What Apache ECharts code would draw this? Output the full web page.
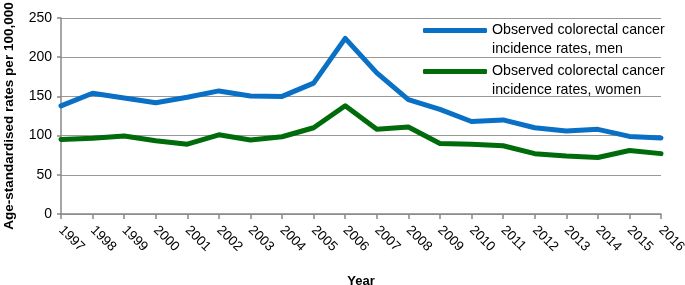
<!DOCTYPE html>
<html><head><meta charset="utf-8">
<script src="https://cdn.jsdelivr.net/npm/echarts@6/dist/echarts.min.js"></script>
<style>html,body{margin:0;padding:0;background:#fff}#c{width:685px;height:285px}</style>
</head><body><div id="c"></div>
<script>
const years = ['1997','1998','1999','2000','2001','2002','2003','2004','2005','2006','2007','2008','2009','2010','2011','2012','2013','2014','2015','2016'];
const men = [138,154,148,142,149,157,150.5,150,167,224,180,146,133.5,118,120,110,106,108,99,97];
const women = [95,96.5,99.5,93.5,89,101,94.5,98.5,110,138,108,111,90,89,87,77,74,72,81,77];
const nameMen = 'Observed colorectal cancer\nincidence rates, men';
const nameWomen = 'Observed colorectal cancer\nincidence rates, women';
const yTicks = [0,50,100,150,200,250];

const font = 'Liberation Sans, Arial, sans-serif';
const chart = echarts.init(document.getElementById('c'), null, {renderer:'canvas'});
const legendText = {fontFamily:font, fontSize:14.2, color:'#000', lineHeight:19};
const legendFmt = function(n){ return ' \n' + n; };
chart.setOption({
  animation:false,
  grid:{left:61, right:24, top:18, bottom:71, containLabel:false, outerBoundsMode:'none'},
  legend:[
    {data:[nameMen], left:423, top:2, padding:0, itemWidth:64, itemHeight:5, icon:'roundRect', textStyle:legendText, formatter:legendFmt, selectedMode:false},
    {data:[nameWomen], left:423, top:43, padding:0, itemWidth:64, itemHeight:5, icon:'roundRect', textStyle:legendText, formatter:legendFmt, selectedMode:false}
  ],
  xAxis:{
    type:'category', data:years, boundaryGap:false,
    name:'Year', nameLocation:'middle', nameGap:61,
    nameTextStyle:{fontFamily:font, fontSize:13, fontWeight:'bold', color:'#000'},
    axisLine:{lineStyle:{color:'#888', width:1.5}},
    axisTick:{show:true, length:5, lineStyle:{color:'#888', width:1.5}, alignWithLabel:true},
    axisLabel:{rotate:-45, fontFamily:font, fontSize:13.5, color:'#000', margin:14, interval:0}
  },
  yAxis:{
    type:'value', min:0, max:250, interval:50,
    name:'Age-standardised rates per 100,000', nameLocation:'middle', nameGap:45,
    nameTextStyle:{fontFamily:font, fontSize:13.5, fontWeight:'bold', color:'#000'},
    axisLine:{show:true, lineStyle:{color:'#888', width:1.5}},
    axisTick:{show:true, length:4, lineStyle:{color:'#888', width:1.5}},
    axisLabel:{fontFamily:font, fontSize:14, color:'#000', margin:9,
      formatter:function(v){return yTicks.indexOf(v)>=0?String(v):'';}},
    splitLine:{show:true, lineStyle:{color:'#999', width:1.2}}
  },
  series:[
    {name:nameMen, type:'line', data:men, symbol:'none', color:'#0A70C6', lineStyle:{width:5, color:'#0A70C6', cap:'round', join:'round'}},
    {name:nameWomen, type:'line', data:women, symbol:'none', color:'#006B0B', lineStyle:{width:5, color:'#006B0B', cap:'round', join:'round'}}
  ]
});
</script></body></html>
